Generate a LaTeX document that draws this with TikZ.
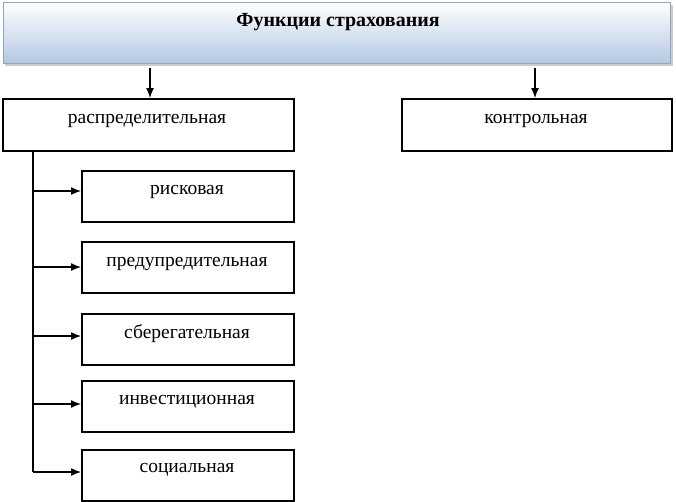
\documentclass[tikz,border=0pt]{standalone}
\usepackage{fontspec}
\setmainfont{Liberation Serif}
\usetikzlibrary{arrows.meta}
\definecolor{topb}{HTML}{B4C8E2}
\definecolor{topl}{HTML}{8EA6C4}
\begin{document}
\begin{tikzpicture}[x=1pt,y=-1pt,
  box/.style={draw,line width=1.5pt,rectangle,inner sep=0pt,anchor=north west},
  arr/.style={-{Latex[length=10pt,width=8pt]},line width=1.3pt},
  lbl/.style={font=\fontsize{19.5}{22}\selectfont}]
\useasboundingbox (0,0) rectangle (676,501);
\path[fill=gray!40] (5,5) rectangle (673,66);
\draw[topl,line width=1pt,top color=white,bottom color=topb] (3,2) rectangle (670,63);
\node[font=\bfseries\fontsize{20}{22}\selectfont] (top) at (338,22) {Функции страхования};
\coordinate (a1) at (150,68);
\coordinate (a2) at (535,68);
\node[box,minimum width=291pt,minimum height=52pt] (L) at (2,98) {};
\node[lbl] at (147,121) {распределительная};
\node[box,minimum width=270pt,minimum height=52pt] (R) at (401,98) {};
\node[lbl] at (536,121) {контрольная};
\draw[arr] (a1) -- (a1 |- L.north);
\draw[arr] (a2) -- (a2 |- R.north);
\foreach \n/\y/\t/\ty in {s1/170/рисковая/192, s2/241/предупредительная/264, s3/313/сберегательная/334, s4/380/инвестиционная/402, s5/449/социальная/470}{
  \node[box,minimum width=212pt,minimum height=51pt] (\n) at (81,\y) {};
  \node[lbl] at (187,\ty) {\t};
}
\coordinate (v0) at (33,150);
\coordinate (v1) at (33,472);
\draw[line width=1.3pt] (v0) -- (v1);
\foreach \n/\y in {s1/191,s2/267,s3/336,s4/404,s5/472}{
  \draw[arr] (33,\y) -- (\n.west |- 0,\y);
}
\end{tikzpicture}
\end{document}
